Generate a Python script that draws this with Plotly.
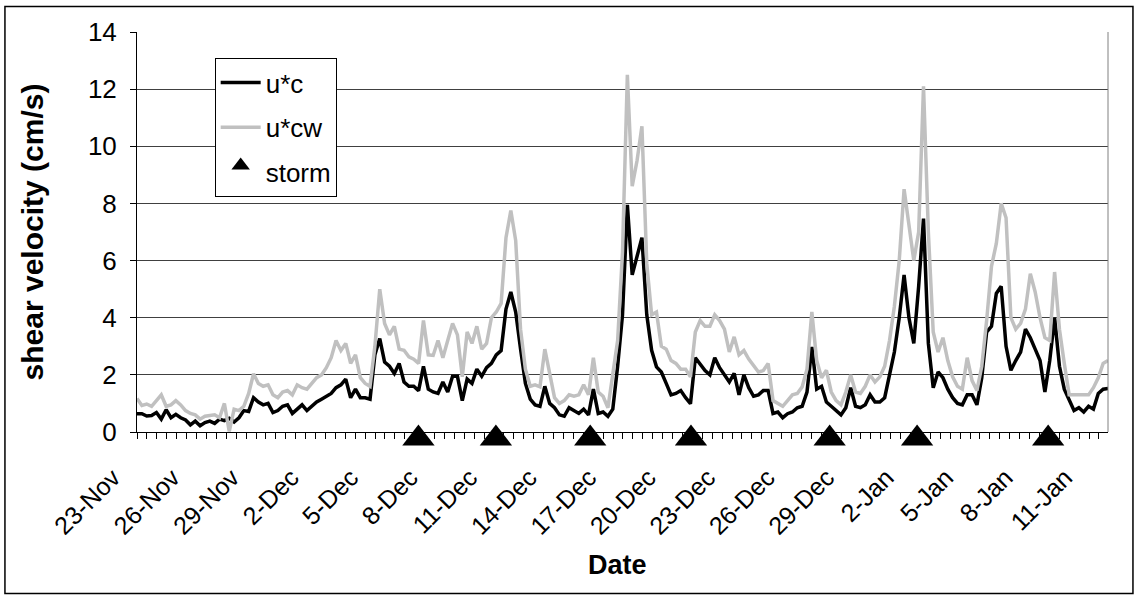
import pandas as pd
import plotly.graph_objects as go

# Sample times: 201 evenly spaced records spanning the plotted period
AXIS_START = pd.Timestamp("2002-11-23 08:52:48")
AXIS_END = pd.Timestamp("2003-01-12 03:22:00")
times = pd.date_range(AXIS_START, AXIS_END, periods=201)

# current-only shear velocity u*c (cm/s)
u_c = [
    0.64, 0.64, 0.56, 0.58, 0.68, 0.45, 0.78, 0.50, 0.62, 0.50,
    0.42, 0.25, 0.38, 0.22, 0.33, 0.38, 0.30, 0.45, 0.40, 0.48,
    0.35, 0.50, 0.75, 0.72, 1.20, 1.05, 0.95, 1.00, 0.68, 0.75,
    0.90, 0.95, 0.65, 0.82, 0.95, 0.75, 0.90, 1.05, 1.15, 1.25,
    1.35, 1.55, 1.65, 1.85, 1.20, 1.50, 1.20, 1.20, 1.15, 2.70,
    3.27, 2.45, 2.30, 2.05, 2.40, 1.75, 1.60, 1.60, 1.45, 2.30,
    1.50, 1.40, 1.35, 1.75, 1.40, 1.95, 1.95, 1.10, 1.85, 1.70,
    2.20, 1.95, 2.25, 2.40, 2.70, 2.85, 4.30, 4.90, 4.20, 2.90,
    1.70, 1.15, 0.95, 0.90, 1.60, 1.00, 0.85, 0.60, 0.55, 0.85,
    0.75, 0.65, 0.80, 0.60, 1.50, 0.65, 0.70, 0.55, 0.80, 2.30,
    4.10, 7.95, 5.50, 6.10, 6.80, 4.10, 2.86, 2.28, 2.10, 1.70,
    1.30, 1.35, 1.45, 1.20, 0.99, 2.60, 2.35, 2.15, 2.00, 2.60,
    2.25, 2.00, 1.75, 2.05, 1.30, 2.00, 1.55, 1.25, 1.30, 1.45,
    1.45, 0.65, 0.70, 0.50, 0.64, 0.70, 0.85, 0.90, 1.40, 2.98,
    1.50, 1.60, 1.05, 0.90, 0.75, 0.60, 0.85, 1.55, 0.90, 0.85,
    0.95, 1.30, 1.05, 1.05, 1.20, 2.00, 2.80, 4.00, 5.50, 4.00,
    3.10, 5.10, 7.47, 3.10, 1.55, 2.10, 1.90, 1.50, 1.20, 1.00,
    0.95, 1.30, 1.30, 0.95, 1.90, 3.50, 3.70, 4.85, 5.10, 3.00,
    2.16, 2.50, 2.80, 3.60, 3.30, 2.90, 2.50, 1.40, 2.50, 4.00,
    2.30, 1.50, 1.15, 0.75, 0.85, 0.70, 0.90, 0.80, 1.35, 1.50,
    1.52,
]

# combined current-wave shear velocity u*cw (cm/s)
u_cw = [
    1.17, 0.93, 0.98, 0.90, 1.10, 1.30, 0.90, 0.95, 1.10, 0.95,
    0.75, 0.65, 0.60, 0.45, 0.55, 0.58, 0.60, 0.50, 1.00, 0.02,
    0.80, 0.75, 0.90, 1.35, 2.04, 1.70, 1.60, 1.65, 1.30, 1.20,
    1.40, 1.45, 1.30, 1.65, 1.55, 1.50, 1.70, 1.90, 2.00, 2.25,
    2.60, 3.20, 2.85, 3.10, 2.40, 2.70, 1.90, 1.70, 1.60, 3.00,
    5.00, 3.80, 3.40, 3.70, 2.90, 2.86, 2.63, 2.55, 2.40, 3.90,
    2.70, 2.68, 3.20, 2.60, 3.20, 3.80, 3.40, 1.93, 3.50, 3.10,
    3.70, 2.90, 3.10, 4.00, 4.20, 4.50, 6.80, 7.75, 6.70, 3.60,
    2.20, 1.60, 1.65, 1.58, 2.90, 2.00, 1.20, 1.00, 1.10, 1.30,
    1.25, 1.30, 1.65, 1.30, 2.60, 1.40, 1.25, 0.85, 2.00, 3.20,
    6.30, 12.50, 8.60, 9.50, 10.70, 5.90, 4.10, 4.20, 3.00, 2.90,
    2.50, 2.40, 2.20, 2.20, 1.93, 3.50, 3.90, 3.70, 3.70, 4.10,
    3.90, 3.60, 2.80, 3.33, 2.70, 2.85, 2.55, 2.30, 2.10, 2.15,
    2.40, 1.10, 1.00, 0.90, 1.10, 1.30, 1.35, 1.58, 2.20, 4.20,
    2.50, 1.90, 2.16, 1.40, 1.10, 0.95, 1.40, 2.00, 1.40, 1.35,
    1.60, 2.00, 1.75, 1.93, 2.30, 3.20, 4.40, 6.00, 8.50, 7.20,
    6.00, 7.00, 12.10, 7.00, 3.50, 2.80, 3.30, 2.50, 1.93, 1.60,
    1.50, 2.60, 1.80, 1.45, 2.30, 3.90, 5.80, 6.60, 8.00, 7.50,
    4.00, 3.60, 3.80, 4.30, 5.54, 4.90, 4.00, 3.30, 3.20, 5.60,
    3.60, 2.40, 1.30, 1.30, 1.30, 1.30, 1.30, 1.55, 1.90, 2.40,
    2.50,
]

# storm events, marked on the zero line
storm_times = [
    "2002-12-07 19:06", "2002-12-11 18:22", "2002-12-16 14:24",
    "2002-12-21 18:22", "2002-12-28 20:57", "2003-01-02 08:31",
    "2003-01-09 01:45",
]
storm_values = [0, 0, 0, 0, 0, 0, 0]

FONT = "Liberation Sans, Arial, sans-serif"
DAY_MS = 86400000
LABEL_STEP_MS = int(3.05 * DAY_MS)      # one date label every 6 ticks
TICK_STEP_MS = LABEL_STEP_MS // 6       # small tick marks

fig = go.Figure()
fig.add_trace(go.Scatter(
    x=times, y=u_c, name="u*c", mode="lines", legendgroup="a",
    line=dict(color="#000000", width=3.5),
))
fig.add_trace(go.Scatter(
    x=times, y=u_cw, name="u*cw", mode="lines", legendgroup="b",
    line=dict(color="#c0c0c0", width=3.5),
))
fig.add_trace(go.Scatter(
    x=storm_times, y=storm_values, name="storm", mode="markers",
    legendgroup="c", cliponaxis=False,
    marker=dict(symbol="triangle-up", size=28, color="#000000", standoff=6.4),
))

fig.update_layout(
    width=1139, height=599,
    margin=dict(l=137, r=31, t=32, b=167),
    paper_bgcolor="white", plot_bgcolor="white",
    font=dict(family=FONT, size=26, color="#000000"),
    showlegend=True,
    legend=dict(
        x=0.08, y=0.935, xanchor="left", yanchor="top",
        bgcolor="white", bordercolor="#000000", borderwidth=1,
        font=dict(size=26), traceorder="grouped", tracegroupgap=8,
        itemwidth=40,
    ),
    xaxis=dict(
        type="date",
        range=[AXIS_START, AXIS_END],
        tick0=AXIS_START, dtick=LABEL_STEP_MS,
        tickformat="%-d-%b", tickangle=-45,
        ticks="outside", ticklen=6, tickcolor="#000000",
        ticklabelstandoff=14, ticklabelshift=-24,
        tickfont=dict(size=25),
        minor=dict(dtick=TICK_STEP_MS, tick0=AXIS_START, ticks="outside",
                   ticklen=6, tickcolor="#000000", showgrid=False),
        showline=True, linecolor="#000000", linewidth=1,
        showgrid=False, zeroline=False,
    ),
    yaxis=dict(
        range=[0, 14], dtick=2, tick0=0,
        ticks="outside", ticklen=6, tickcolor="#000000",
        ticklabelstandoff=8,
        showline=True, linecolor="#000000", linewidth=1,
        showgrid=True, gridcolor="#404040", gridwidth=1,
        zeroline=False,
        title=dict(text="<b>shear velocity (cm/s)</b>", standoff=35,
                   font=dict(size=30)),
    ),
)

# x-axis title
fig.add_annotation(
    text="<b>Date</b>", xref="paper", yref="paper", x=0.495, y=-0.333,
    xanchor="center", yanchor="middle", showarrow=False,
    font=dict(size=27),
)

# right-hand plot-area edge and outer chart frame
fig.add_shape(type="line", xref="paper", yref="paper", x0=1, x1=1, y0=0, y1=1,
              line=dict(color="#808080", width=1))
fig.add_shape(type="rect", xref="paper", yref="paper",
              x0=-0.136, x1=1.0257, y0=-0.404, y1=1.064,
              line=dict(color="#000000", width=1.5))

fig.write_html("out.html")
